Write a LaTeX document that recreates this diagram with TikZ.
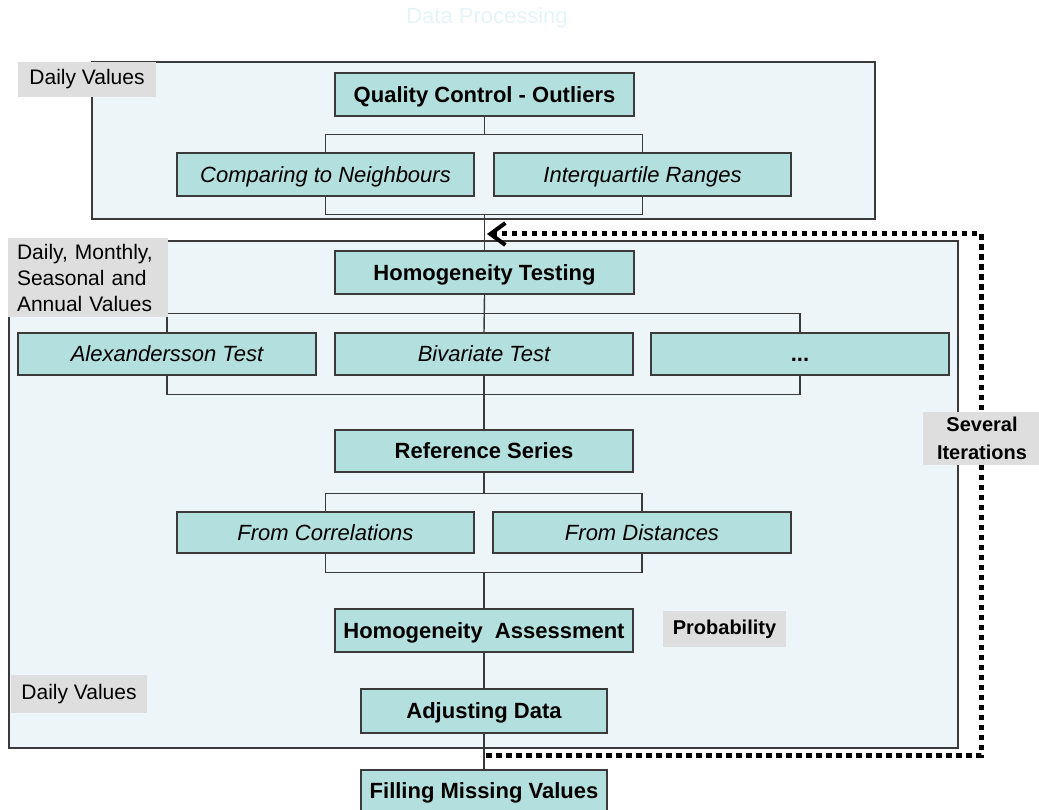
\documentclass[tikz,border=0pt]{standalone}
\usepackage{fontspec}
\setmainfont{Liberation Sans}
\usetikzlibrary{arrows.meta}
\definecolor{boxfill}{HTML}{B3DFDF}
\definecolor{panelfill}{HTML}{EDF5F8}
\definecolor{edge}{HTML}{3A3A3A}
\definecolor{labelfill}{HTML}{DEDEDE}
\definecolor{titlecol}{HTML}{E6F4F7}
\begin{document}
\begin{tikzpicture}[x=1pt,y=-1pt,
  basebox/.style={draw=edge, line width=1.4pt, fill=boxfill, inner sep=0pt, align=center, text height=15.8pt, text depth=0pt},
  stepbox/.style={basebox, font=\fontsize{22}{26}\selectfont\bfseries},
  subbox/.style={basebox, font=\fontsize{22}{26}\selectfont\itshape},
  tag/.style={fill=labelfill, inner sep=0pt, font=\fontsize{21}{26}\selectfont},
  conn/.style={draw=edge, line width=1.4pt},
  panel/.style={draw=edge, line width=1.4pt, fill=panelfill},
  loopline/.style={line width=5pt, dash pattern=on 5.5pt off 4.5pt,
    -{Straight Barb[length=15pt,width=22pt,line width=4pt]}}]
\useasboundingbox (0,0) rectangle (1039,810);

% title
\node[text=titlecol, font=\fontsize{22}{26}\selectfont] (title) at (487,18) {Data Processing};

% panels
\draw[panel] (92,62) rectangle (875,219);
\draw[panel] (9,241) rectangle (958,748);

% nodes
\node[stepbox, minimum width=299pt, minimum height=43pt] (qc) at (484.5,94.5) {Quality Control - Outliers};
\node[subbox, minimum width=297pt, minimum height=43pt] (cmp) at (325.5,174.5) {Comparing to Neighbours};
\node[subbox, minimum width=297pt, minimum height=43pt] (iqr) at (642.5,174.5) {Interquartile Ranges};

\node[stepbox, minimum width=299pt, minimum height=43pt] (hom) at (484.5,272.5) {Homogeneity Testing};
\node[subbox, minimum width=298pt, minimum height=42pt] (alex) at (167,354) {Alexandersson Test};
\node[subbox, minimum width=298pt, minimum height=42pt] (biv) at (484,354) {Bivariate Test};
\node[stepbox, minimum width=298pt, minimum height=42pt] (more) at (800,354) {...};

\node[stepbox, minimum width=298pt, minimum height=42pt] (ref) at (484,451) {Reference Series};
\node[subbox, minimum width=297pt, minimum height=41pt] (corr) at (325.5,532.5) {From Correlations};
\node[subbox, minimum width=298pt, minimum height=41pt] (dist) at (642,532.5) {From Distances};

\node[stepbox, minimum width=298pt, minimum height=43pt] (ass) at (484,630.5) {Homogeneity\ \ Assessment};
\node[stepbox, minimum width=246pt, minimum height=44pt] (adj) at (484,711) {Adjusting Data};
\node[stepbox, minimum width=246pt, minimum height=41pt] (fill) at (484,790.5) {Filling Missing Values};

% connectors
\draw[conn] (qc.south) -- ++(0,18) -| (cmp.north);
\draw[conn] (qc.south) -- ++(0,18) -| (iqr.north);
\draw[conn] (cmp.south) -- ++(0,18) -| (hom.north);
\draw[conn] (iqr.south) -- ++(0,18) -| (hom.north);

\draw[conn] (hom.south) -- ++(0,19) -| (alex.north);
\draw[conn] (hom.south) -- ++(0,19) -| (more.north);
\draw[conn] (hom.south) -- (biv.north);
\draw[conn] (alex.south) -- ++(0,19) -| (ref.north);
\draw[conn] (more.south) -- ++(0,19) -| (ref.north);
\draw[conn] (biv.south) -- (ref.north);

\draw[conn] (ref.south) -- ++(0,21) -| (corr.north);
\draw[conn] (ref.south) -- ++(0,21) -| (dist.north);
\draw[conn] (corr.south) -- ++(0,19) -| (ass.north);
\draw[conn] (dist.south) -- ++(0,19) -| (ass.north);

\draw[conn] (ass.south) -- (adj.north);
\draw[conn] (adj.south) -- (fill.north);

% feedback loop
\coordinate (fbstart) at (486,755);
\coordinate (fbcornerA) at (981,755);
\coordinate (fbcornerB) at (981,234);
\coordinate (fbend) at (487,234);
\draw[loopline] (fbstart) -- (fbcornerA) -- (fbcornerB) -- (fbend);

% labels
\node[tag, minimum width=138pt, minimum height=35pt] (dv1) at (87,79.5) {Daily Values};
\node[tag, minimum width=160pt, minimum height=79pt, text width=142pt, align=left] (dmsa) at (88,277.5) {Daily, Monthly,\\Seasonal and\\Annual Values};
\node[tag, minimum width=136pt, minimum height=38pt] (dv2) at (79,694) {Daily Values};
\node[tag, minimum width=123pt, minimum height=36pt, font=\fontsize{20}{24}\selectfont\bfseries] (prob) at (724.5,629) {Probability};
\node[tag, minimum width=119pt, minimum height=53pt, align=center, font=\fontsize{20}{28}\selectfont\bfseries] (sev) at (982,438.5) {Several\\Iterations};
\end{tikzpicture}
\end{document}
